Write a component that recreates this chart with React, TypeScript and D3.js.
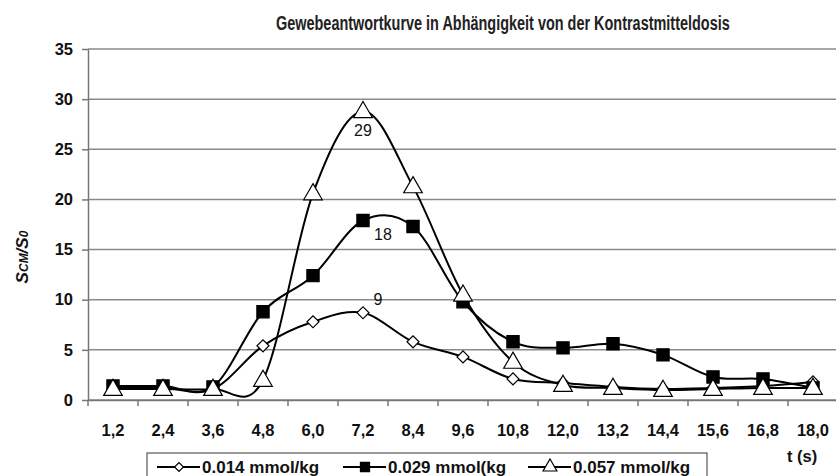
import React, { useRef, useEffect } from "react";
import * as d3 from "d3";

const categories = ["1,2", "2,4", "3,6", "4,8", "6,0", "7,2", "8,4", "9,6", "10,8", "12,0", "13,2", "14,4", "15,6", "16,8", "18,0"];
const low = [1.2, 1.2, 1.1, 5.4, 7.8, 8.7, 5.8, 4.3, 2.1, 1.7, 1.3, 1.1, 1.2, 1.4, 1.8];
const mid = [1.4, 1.4, 1.3, 8.8, 12.4, 17.9, 17.3, 9.8, 5.8, 5.2, 5.6, 4.5, 2.3, 2.1, 1.2];
const high = [1.1, 1.1, 1.1, 2.0, 20.6, 28.8, 21.3, 10.5, 3.8, 1.5, 1.2, 1.0, 1.1, 1.2, 1.2];
const seriesNames = ["0.014 mmol/kg", "0.029 mmol(kg", "0.057 mmol/kg"];
const yTicks = [0, 5, 10, 15, 20, 25, 30, 35];
const peakLabels = [
  { series: 0, index: 5, text: "9" },
  { series: 1, index: 5, text: "18" },
  { series: 2, index: 5, text: "29" },
];

const W = 836;
const H = 476;

const App = () => {
  const ref = useRef<SVGSVGElement>(null);

  useEffect(() => {
    const svg = d3.select(ref.current);
    svg.selectAll("*").remove();
    const font = "'Liberation Sans', Arial, sans-serif";
    const margin = { top: 49, right: 0, left: 88, bottom: 76 };

    const x = d3.scaleBand().domain(categories).range([margin.left, 838]);
    const y = d3.scaleLinear().domain([0, 35]).range([H - margin.bottom, margin.top]);

    // title, squeezed horizontally like a narrow font
    const title = svg.append("text")
      .attr("font-family", font)
      .attr("font-weight", "bold").attr("font-size", 21)
      .attr("fill", "#222")
      .text("Gewebeantwortkurve in Abhängigkeit von der Kontrastmitteldosis");
    const tw = (title.node() as SVGTextElement).getComputedTextLength() || 700;
    const sx = 454 / tw;
    title.attr("transform", `translate(276,30) scale(${sx},1)`);

    // grid
    svg.append("g").selectAll("line").data(yTicks).join("line")
      .attr("x1", margin.left).attr("x2", W)
      .attr("y1", d => y(d)).attr("y2", d => y(d))
      .attr("stroke", "#8a8a8a").attr("stroke-width", 1.5);

    // y axis
    const ya = svg.append("g")
      .attr("transform", `translate(${margin.left},0)`)
      .call(d3.axisLeft(y).tickValues(yTicks).tickSize(6).tickPadding(9).tickSizeOuter(0));
    ya.selectAll("path, line").attr("stroke", "#777").attr("stroke-width", 1.5);
    ya.selectAll("text").attr("font-family", font).attr("font-weight", "bold")
      .attr("font-size", 16.5).attr("fill", "#111");

    // x axis
    const xa = svg.append("g")
      .attr("transform", `translate(0,${y(0)})`)
      .call(d3.axisBottom(x).tickSize(0).tickPadding(24).tickSizeOuter(0));
    xa.select("path").attr("stroke", "#777").attr("stroke-width", 1.5);
    xa.selectAll("text").attr("font-family", font).attr("font-weight", "bold")
      .attr("font-size", 16.5).attr("fill", "#111");
    xa.selectAll("line.bt").data(categories).join("line").attr("class", "bt")
      .attr("x1", d => x(d)!).attr("x2", d => x(d)!)
      .attr("y1", 0).attr("y2", 6)
      .attr("stroke", "#777").attr("stroke-width", 1.5);

    // y title
    const yt = svg.append("text")
      .attr("transform", "translate(28,257) rotate(-90)")
      .attr("text-anchor", "middle")
      .attr("font-family", font).attr("font-weight", "bold").attr("font-style", "italic")
      .attr("font-size", 17).attr("fill", "#111");
    yt.append("tspan").text("S");
    yt.append("tspan").attr("font-size", 12).text("CM");
    yt.append("tspan").text("/S");
    yt.append("tspan").attr("font-size", 12).text("0");

    // x title
    svg.append("text").attr("x", 787).attr("y", 462)
      .attr("font-family", font).attr("font-weight", "bold")
      .attr("font-size", 16.5).attr("fill", "#111").text("t (s)");

    const cx = (i: number) => x(categories[i])! + x.bandwidth() / 2;
    const line = d3.line<number>()
      .x((d, i) => cx(i))
      .y(d => y(d))
      .curve(d3.curveCardinal.tension(0));

    const shapes = [d3.symbolSquare, d3.symbolSquare, d3.symbolTriangle];
    const rotations = [45, 0, 0];
    const sizes = [72, 150, 150];
    const fills = ["#fff", "#000", "#fff"];
    const all = [low, mid, high];

    all.forEach((vals) => {
      svg.append("path").datum(vals).attr("d", line)
        .attr("fill", "none").attr("stroke", "#000").attr("stroke-width", 2);
    });
    all.forEach((vals, s) => {
      const sym = d3.symbol().type(shapes[s]).size(sizes[s]);
      svg.append("g").selectAll("path").data(vals).join("path")
        .attr("d", sym)
        .attr("transform", (d, i) => `translate(${cx(i)},${y(d) + (s === 2 ? 1 : 0)}) rotate(${rotations[s]})`)
        .attr("fill", fills[s]).attr("stroke", "#000").attr("stroke-width", 1.2);
    });

    // peak labels
    const lblPos = [{ dx: 15, dy: -8 }, { dx: 20, dy: 20 }, { dx: 0, dy: 25 }];
    peakLabels.forEach(p => {
      const v = all[p.series][p.index];
      svg.append("text")
        .attr("x", cx(p.index) + lblPos[p.series].dx)
        .attr("y", y(v) + lblPos[p.series].dy)
        .attr("text-anchor", "middle")
        .attr("font-family", font).attr("font-size", 16).attr("fill", "#111")
        .text(p.text);
    });

    // legend
    const lg = svg.append("g");
    lg.append("rect").attr("x", 147).attr("y", 453).attr("width", 560).attr("height", 40)
      .attr("fill", "#fff").attr("stroke", "#555").attr("stroke-width", 1.2);
    const lx = [157, 343, 528];
    seriesNames.forEach((name, s) => {
      const g = lg.append("g").attr("transform", `translate(${lx[s]},467)`);
      g.append("line").attr("x1", 0).attr("x2", 43).attr("stroke", "#000").attr("stroke-width", 2);
      g.append("path").attr("d", d3.symbol().type(shapes[s]).size(sizes[s] * 0.55)())
        .attr("transform", `translate(22,0) rotate(${rotations[s]})`)
        .attr("fill", fills[s]).attr("stroke", "#000").attr("stroke-width", 1.2);
      g.append("text").attr("x", 45).attr("y", 6)
        .attr("font-family", font).attr("font-weight", "bold").attr("font-size", 17)
        .attr("fill", "#111").text(name);
    });
  }, []);

  return (
    <svg ref={ref} width={W} height={H} style={{ position: "absolute", left: 0, top: 0, background: "#fff" }} />
  );
};

export default App;
